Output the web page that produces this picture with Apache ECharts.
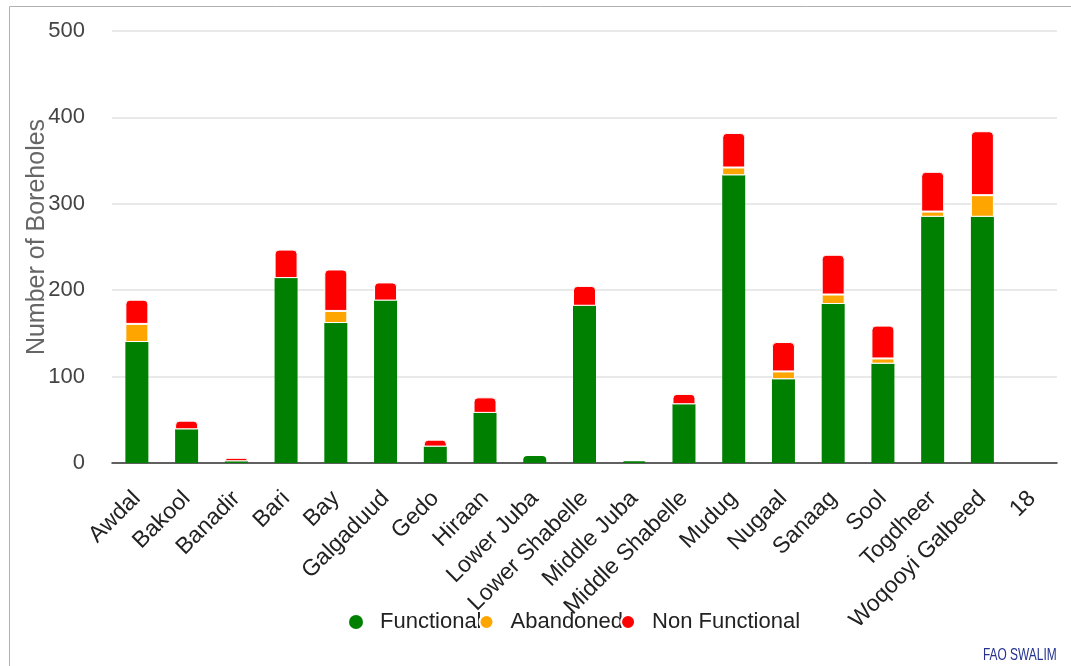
<!DOCTYPE html>
<html>
<head>
<meta charset="utf-8">
<script src="https://cdn.jsdelivr.net/npm/echarts@6/dist/echarts.min.js"></script>
<style>
html,body{margin:0;padding:0;background:#fff;}
#chart{width:1071px;height:666px;}
</style>
</head>
<body>
<div id="chart"></div>
<script>
const categories = ['Awdal','Bakool','Banadir','Bari','Bay','Galgaduud','Gedo','Hiraan','Lower Juba','Lower Shabelle','Middle Juba','Middle Shabelle','Mudug','Nugaal','Sanaag','Sool','Togdheer','Woqooyi Galbeed','18'];
const functional    = [140, 39, 2, 214, 162, 188, 19, 58, 8, 182, 2, 68, 333, 97, 184, 115, 285, 285, 0];
const abandoned     = [21, 0, 0, 0, 14, 0, 0, 0, 0, 0, 0, 0, 9, 9, 11, 6, 6, 25, 0];
const nonFunctional = [28, 10, 4, 33, 48, 21, 8, 18, 0, 23, 0, 12, 40, 34, 46, 38, 46, 74, 0];
const yTicks = [0, 100, 200, 300, 400, 500];

const FONT = "'Liberation Sans', Arial, sans-serif";
const seriesDefs = [
  {name: 'Functional', data: functional, color: '#008000'},
  {name: 'Abandoned', data: abandoned, color: '#FFA500'},
  {name: 'Non Functional', data: nonFunctional, color: '#FF0000'}
];
const topIdx = categories.map((c, i) => {
  let t = -1;
  seriesDefs.forEach((s, k) => { if (s.data[i] > 0) t = k; });
  return t;
});

const chart = echarts.init(document.getElementById('chart'), null, {renderer: 'canvas'});
chart.setOption({
  backgroundColor: '#fff',
  animation: false,
  graphic: [
    {type: 'rect', shape: {x: 9.5, y: 6.5, width: 1200, height: 800}, style: {fill: 'none', stroke: '#b0b0b0', lineWidth: 1}, z: 0},
    {type: 'text', x: 983, y: 647, scaleX: 0.7, style: {text: 'FAO SWALIM', fill: '#23328f', font: "17px 'Liberation Sans', Arial, sans-serif", textVerticalAlign: 'top'}}
  ],
  grid: {left: 112, right: 14, top: 31, bottom: 203, containLabel: false},
  legend: {
    data: seriesDefs.map(s => s.name),
    icon: 'circle',
    left: 344,
    top: 606,
    itemWidth: 38,
    itemHeight: 14,
    itemGap: -3,
    textStyle: {fontSize: 22, color: '#222', fontFamily: FONT}
  },
  xAxis: {
    type: 'category',
    data: categories,
    axisTick: {show: false},
    axisLine: {lineStyle: {color: '#333', width: 1.5}},
    axisLabel: {rotate: 45, fontSize: 23, color: '#222', fontFamily: FONT, margin: 32, interval: 0}
  },
  yAxis: {
    type: 'value',
    min: yTicks[0],
    max: yTicks[yTicks.length - 1],
    interval: yTicks[1] - yTicks[0],
    name: 'Number of Boreholes',
    nameLocation: 'middle',
    nameGap: 62,
    nameMoveOverlap: false,
    nameTextStyle: {fontSize: 25, color: '#666', fontFamily: FONT, padding: [0, 0, 0, 20]},
    axisLabel: {fontSize: 22, color: '#444', fontFamily: FONT, margin: 27},
    axisLine: {show: false},
    axisTick: {show: false},
    splitLine: {lineStyle: {color: '#e2e2e2', width: 1.5}}
  },
  series: seriesDefs.map((s, k) => ({
    name: s.name,
    type: 'bar',
    stack: 'total',
    barWidth: 23,
    itemStyle: {color: s.color, borderColor: '#fff', borderWidth: k === 0 ? 0 : 1},
    data: s.data.map((v, i) => ({
      value: v > 0 ? v : '-',
      itemStyle: topIdx[i] === k ? {borderRadius: [4, 4, 0, 0]} : {}
    }))
  }))
});
</script>
</body>
</html>
